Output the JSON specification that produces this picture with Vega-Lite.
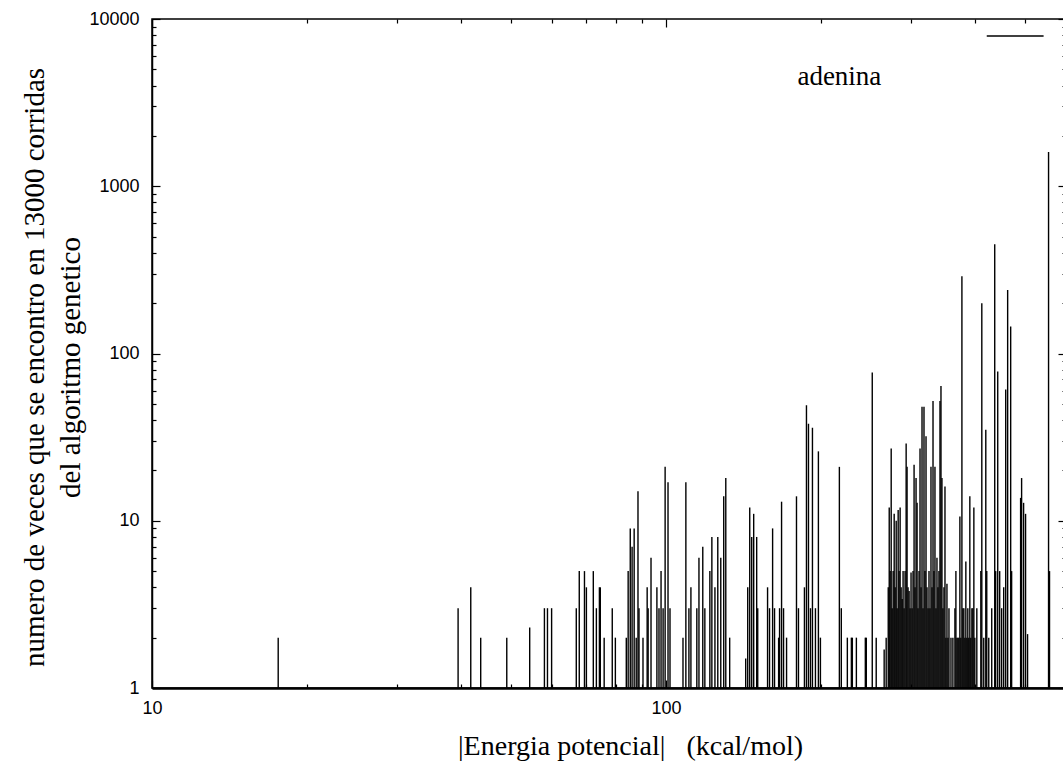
{
  "$schema": "https://vega.github.io/schema/vega-lite/v6.json",
  "width": 914,
  "height": 669,
  "autosize": {"type": "none"},
  "padding": {"left": 152, "top": 19, "right": 0, "bottom": 76},
  "background": "white",
  "config": {
    "font": "Liberation Serif",
    "view": {"stroke": "black", "strokeWidth": 1.5},
    "axis": {"grid": false, "titleFont": "Liberation Serif", "labelFont": "Liberation Sans"}
  },
  "data": {"values": [
    {"e": 17.6, "n": 2}, {"e": 39.4, "n": 3}, {"e": 41.7, "n": 4}, {"e": 43.6, "n": 2}, {"e": 49.0, "n": 2},
    {"e": 54.3, "n": 2.3}, {"e": 58.0, "n": 3}, {"e": 58.8, "n": 3}, {"e": 59.9, "n": 3}, {"e": 66.9, "n": 3},
    {"e": 67.8, "n": 5}, {"e": 69.4, "n": 5}, {"e": 70.0, "n": 4}, {"e": 72.2, "n": 5}, {"e": 73.2, "n": 3},
    {"e": 74.2, "n": 4}, {"e": 74.5, "n": 4}, {"e": 75.8, "n": 2}, {"e": 78.6, "n": 3}, {"e": 79.7, "n": 2},
    {"e": 83.7, "n": 2}, {"e": 84.4, "n": 5}, {"e": 85.2, "n": 9}, {"e": 85.9, "n": 7}, {"e": 86.7, "n": 9},
    {"e": 87.5, "n": 2}, {"e": 88.2, "n": 15}, {"e": 88.6, "n": 3}, {"e": 90.2, "n": 2}, {"e": 91.9, "n": 4},
    {"e": 92.3, "n": 3}, {"e": 93.5, "n": 6}, {"e": 96.0, "n": 4}, {"e": 96.9, "n": 3}, {"e": 97.8, "n": 5},
    {"e": 98.7, "n": 3}, {"e": 99.6, "n": 21}, {"e": 100.9, "n": 17}, {"e": 101.8, "n": 3}, {"e": 107.9, "n": 2},
    {"e": 109.3, "n": 17}, {"e": 110.8, "n": 3}, {"e": 111.8, "n": 4}, {"e": 114.8, "n": 3}, {"e": 115.9, "n": 6},
    {"e": 117.9, "n": 7}, {"e": 119.0, "n": 3}, {"e": 121.7, "n": 5}, {"e": 122.8, "n": 8}, {"e": 124.5, "n": 4},
    {"e": 126.1, "n": 8}, {"e": 127.8, "n": 6}, {"e": 129.5, "n": 14}, {"e": 130.7, "n": 18}, {"e": 133.0, "n": 2},
    {"e": 142.9, "n": 1.5}, {"e": 144.2, "n": 4}, {"e": 145.5, "n": 12}, {"e": 146.8, "n": 8}, {"e": 148.1, "n": 11},
    {"e": 150.1, "n": 8}, {"e": 150.8, "n": 3}, {"e": 157.6, "n": 4}, {"e": 159.0, "n": 3}, {"e": 161.2, "n": 9},
    {"e": 162.6, "n": 3}, {"e": 165.6, "n": 2}, {"e": 166.3, "n": 3}, {"e": 167.8, "n": 13}, {"e": 169.3, "n": 3},
    {"e": 171.6, "n": 2}, {"e": 179.4, "n": 14}, {"e": 181.0, "n": 3}, {"e": 185.9, "n": 4}, {"e": 187.6, "n": 49},
    {"e": 189.3, "n": 38}, {"e": 191.0, "n": 3}, {"e": 192.7, "n": 36}, {"e": 195.3, "n": 3}, {"e": 197.9, "n": 26},
    {"e": 199.7, "n": 2}, {"e": 217.4, "n": 21}, {"e": 219.3, "n": 3}, {"e": 225.3, "n": 2}, {"e": 229.4, "n": 2},
    {"e": 230.4, "n": 2}, {"e": 234.6, "n": 2}, {"e": 244.2, "n": 2}, {"e": 245.3, "n": 2}, {"e": 251.9, "n": 77},
    {"e": 256.4, "n": 2}, {"e": 265.7, "n": 1.7}, {"e": 268.1, "n": 2}, {"e": 270.6, "n": 4}, {"e": 271.8, "n": 12},
    {"e": 272.9, "n": 5}, {"e": 274.2, "n": 27}, {"e": 275.4, "n": 3}, {"e": 276.6, "n": 5}, {"e": 277.9, "n": 11},
    {"e": 279.1, "n": 4}, {"e": 280.4, "n": 10}, {"e": 281.6, "n": 3}, {"e": 282.9, "n": 11.6}, {"e": 284.1, "n": 5},
    {"e": 285.4, "n": 12}, {"e": 286.7, "n": 4}, {"e": 288.0, "n": 3.4}, {"e": 289.2, "n": 5}, {"e": 290.5, "n": 3},
    {"e": 291.8, "n": 5}, {"e": 293.2, "n": 29}, {"e": 294.4, "n": 21}, {"e": 295.7, "n": 4}, {"e": 297.1, "n": 3.8},
    {"e": 298.4, "n": 3}, {"e": 299.7, "n": 4.9}, {"e": 301.1, "n": 3}, {"e": 302.4, "n": 5}, {"e": 303.8, "n": 21.6},
    {"e": 305.1, "n": 4}, {"e": 306.5, "n": 18}, {"e": 307.9, "n": 12.8}, {"e": 309.2, "n": 3}, {"e": 310.6, "n": 5},
    {"e": 312.0, "n": 27}, {"e": 313.4, "n": 4}, {"e": 314.8, "n": 48}, {"e": 316.2, "n": 3}, {"e": 317.6, "n": 48},
    {"e": 319.0, "n": 5}, {"e": 320.5, "n": 32}, {"e": 321.9, "n": 4}, {"e": 323.4, "n": 3}, {"e": 324.8, "n": 5},
    {"e": 326.2, "n": 3}, {"e": 327.7, "n": 21}, {"e": 329.2, "n": 4}, {"e": 330.7, "n": 52}, {"e": 332.1, "n": 5},
    {"e": 333.6, "n": 21}, {"e": 335.1, "n": 3}, {"e": 336.6, "n": 6}, {"e": 338.1, "n": 4}, {"e": 339.6, "n": 5},
    {"e": 341.2, "n": 52}, {"e": 342.7, "n": 64}, {"e": 344.2, "n": 18}, {"e": 345.7, "n": 3}, {"e": 347.3, "n": 4},
    {"e": 348.9, "n": 16}, {"e": 350.4, "n": 2}, {"e": 352.0, "n": 4.2}, {"e": 353.6, "n": 2}, {"e": 355.2, "n": 3},
    {"e": 358.4, "n": 2}, {"e": 361.5, "n": 2}, {"e": 364.8, "n": 3}, {"e": 366.4, "n": 5}, {"e": 368.1, "n": 2},
    {"e": 369.7, "n": 2}, {"e": 371.3, "n": 2}, {"e": 373.0, "n": 10.6}, {"e": 374.6, "n": 2}, {"e": 376.4, "n": 290},
    {"e": 378.0, "n": 3}, {"e": 379.7, "n": 3}, {"e": 381.4, "n": 2}, {"e": 383.1, "n": 5.7}, {"e": 384.8, "n": 2},
    {"e": 386.5, "n": 3}, {"e": 388.2, "n": 2}, {"e": 390.0, "n": 14}, {"e": 391.7, "n": 2}, {"e": 393.6, "n": 3},
    {"e": 395.3, "n": 3}, {"e": 397.1, "n": 12}, {"e": 398.8, "n": 2}, {"e": 402.4, "n": 3}, {"e": 409.7, "n": 5},
    {"e": 411.5, "n": 200}, {"e": 415.1, "n": 2}, {"e": 418.9, "n": 35}, {"e": 420.7, "n": 5}, {"e": 424.5, "n": 2},
    {"e": 430.2, "n": 3}, {"e": 436.0, "n": 450}, {"e": 437.9, "n": 5}, {"e": 441.9, "n": 78}, {"e": 445.8, "n": 5},
    {"e": 449.8, "n": 3}, {"e": 453.9, "n": 4}, {"e": 458.0, "n": 61}, {"e": 462.0, "n": 240}, {"e": 468.3, "n": 145},
    {"e": 470.3, "n": 5}, {"e": 489.6, "n": 13.7}, {"e": 491.8, "n": 18}, {"e": 496.2, "n": 12.8}, {"e": 500.6, "n": 11},
    {"e": 505.1, "n": 2.1}, {"e": 554.9, "n": 1600}, {"e": 557.3, "n": 5}
  ]},
  "layer": [
    {
      "mark": {"type": "rule", "color": "black", "strokeWidth": 1.4},
      "encoding": {
        "x": {
          "field": "e", "type": "quantitative",
          "scale": {"type": "log", "domain": [10, 600], "nice": false},
          "axis": {
            "orient": "bottom",
            "values": [10, 20, 30, 40, 50, 60, 70, 80, 90, 100, 200, 300, 400, 500, 600],
            "labelExpr": "datum.value == 10 || datum.value == 100 ? datum.value + '' : ''",
            "labelFont": "Liberation Sans", "labelFontSize": 18, "labelColor": "black",
            "labelBaseline": "top", "labelPadding": 19, "labelOverlap": false, "labelFlush": false,
            "tickSize": {"condition": {"test": "datum.value == 10 || datum.value == 100", "value": -8}, "value": -4},
            "tickColor": "black", "tickWidth": 1.2,
            "domainColor": "black", "domainWidth": 2.5,
            "title": "|Energia potencial|\u00a0\u00a0\u00a0(kcal/mol)",
            "titleFont": "Liberation Serif", "titleFontSize": 28, "titleFontWeight": "normal", "titleColor": "black",
            "titleX": 478, "titleY": 66, "titleAlign": "center", "titleBaseline": "alphabetic"
          }
        },
        "y": {
          "field": "n", "type": "quantitative",
          "scale": {"type": "log", "domain": [1, 10000], "nice": false},
          "axis": {
            "orient": "left",
            "values": [1, 2, 3, 4, 5, 6, 7, 8, 9, 10, 20, 30, 40, 50, 60, 70, 80, 90, 100, 200, 300, 400, 500, 600, 700, 800, 900, 1000, 2000, 3000, 4000, 5000, 6000, 7000, 8000, 9000, 10000],
            "labelExpr": "indexof([1, 10, 100, 1000, 10000], datum.value) >= 0 ? datum.value + '' : ''",
            "labelFont": "Liberation Sans", "labelFontSize": 18, "labelColor": "black",
            "labelPadding": 21, "labelOverlap": false, "labelFlush": false,
            "tickSize": {"condition": {"test": "indexof([1, 10, 100, 1000, 10000], datum.value) >= 0", "value": -8}, "value": -4},
            "tickColor": "black", "tickWidth": 1.2,
            "domainColor": "black", "domainWidth": 1.5,
            "title": ["numero de veces que se encontro en 13000 corridas", "del algoritmo genetico"],
            "titleFont": "Liberation Serif", "titleFontSize": 29, "titleFontWeight": "normal", "titleColor": "black",
            "titleAngle": -90, "titleAlign": "center", "titleBaseline": "top", "titleLineHeight": 36,
            "titleX": -132, "titleY": 348
          }
        },
        "y2": {"datum": 1}
      }
    },
    {
      "data": {"values": [{"label": "adenina"}]},
      "mark": {"type": "text", "font": "Liberation Serif", "fontSize": 27, "align": "center", "baseline": "middle", "color": "black"},
      "encoding": {
        "x": {
          "datum": 217.4, "type": "quantitative",
          "axis": {
            "orient": "top", "labels": false, "domain": false, "title": null,
            "values": [10, 20, 30, 40, 50, 60, 70, 80, 90, 100, 200, 300, 400, 500, 600],
            "tickSize": {"condition": {"test": "datum.value == 10 || datum.value == 100", "value": -8}, "value": -4},
            "tickColor": "black", "tickWidth": 1.2
          }
        },
        "y": {
          "datum": 4500, "type": "quantitative",
          "axis": {
            "orient": "right", "labels": false, "domain": false, "title": null,
            "values": [1, 2, 3, 4, 5, 6, 7, 8, 9, 10, 20, 30, 40, 50, 60, 70, 80, 90, 100, 200, 300, 400, 500, 600, 700, 800, 900, 1000, 2000, 3000, 4000, 5000, 6000, 7000, 8000, 9000, 10000],
            "tickSize": {"condition": {"test": "indexof([1, 10, 100, 1000, 10000], datum.value) >= 0", "value": -8}, "value": -4},
            "tickColor": "black", "tickWidth": 1.2
          }
        },
        "text": {"field": "label"}
      }
    },
    {
      "data": {"values": [{}]},
      "mark": {"type": "rule", "color": "black", "strokeWidth": 1.5},
      "encoding": {
        "x": {"datum": 420.7, "type": "quantitative", "axis": null},
        "x2": {"datum": 542.7},
        "y": {"datum": 7900, "type": "quantitative", "axis": null}
      }
    }
  ],
  "resolve": {"axis": {"x": "independent", "y": "independent"}}
}
